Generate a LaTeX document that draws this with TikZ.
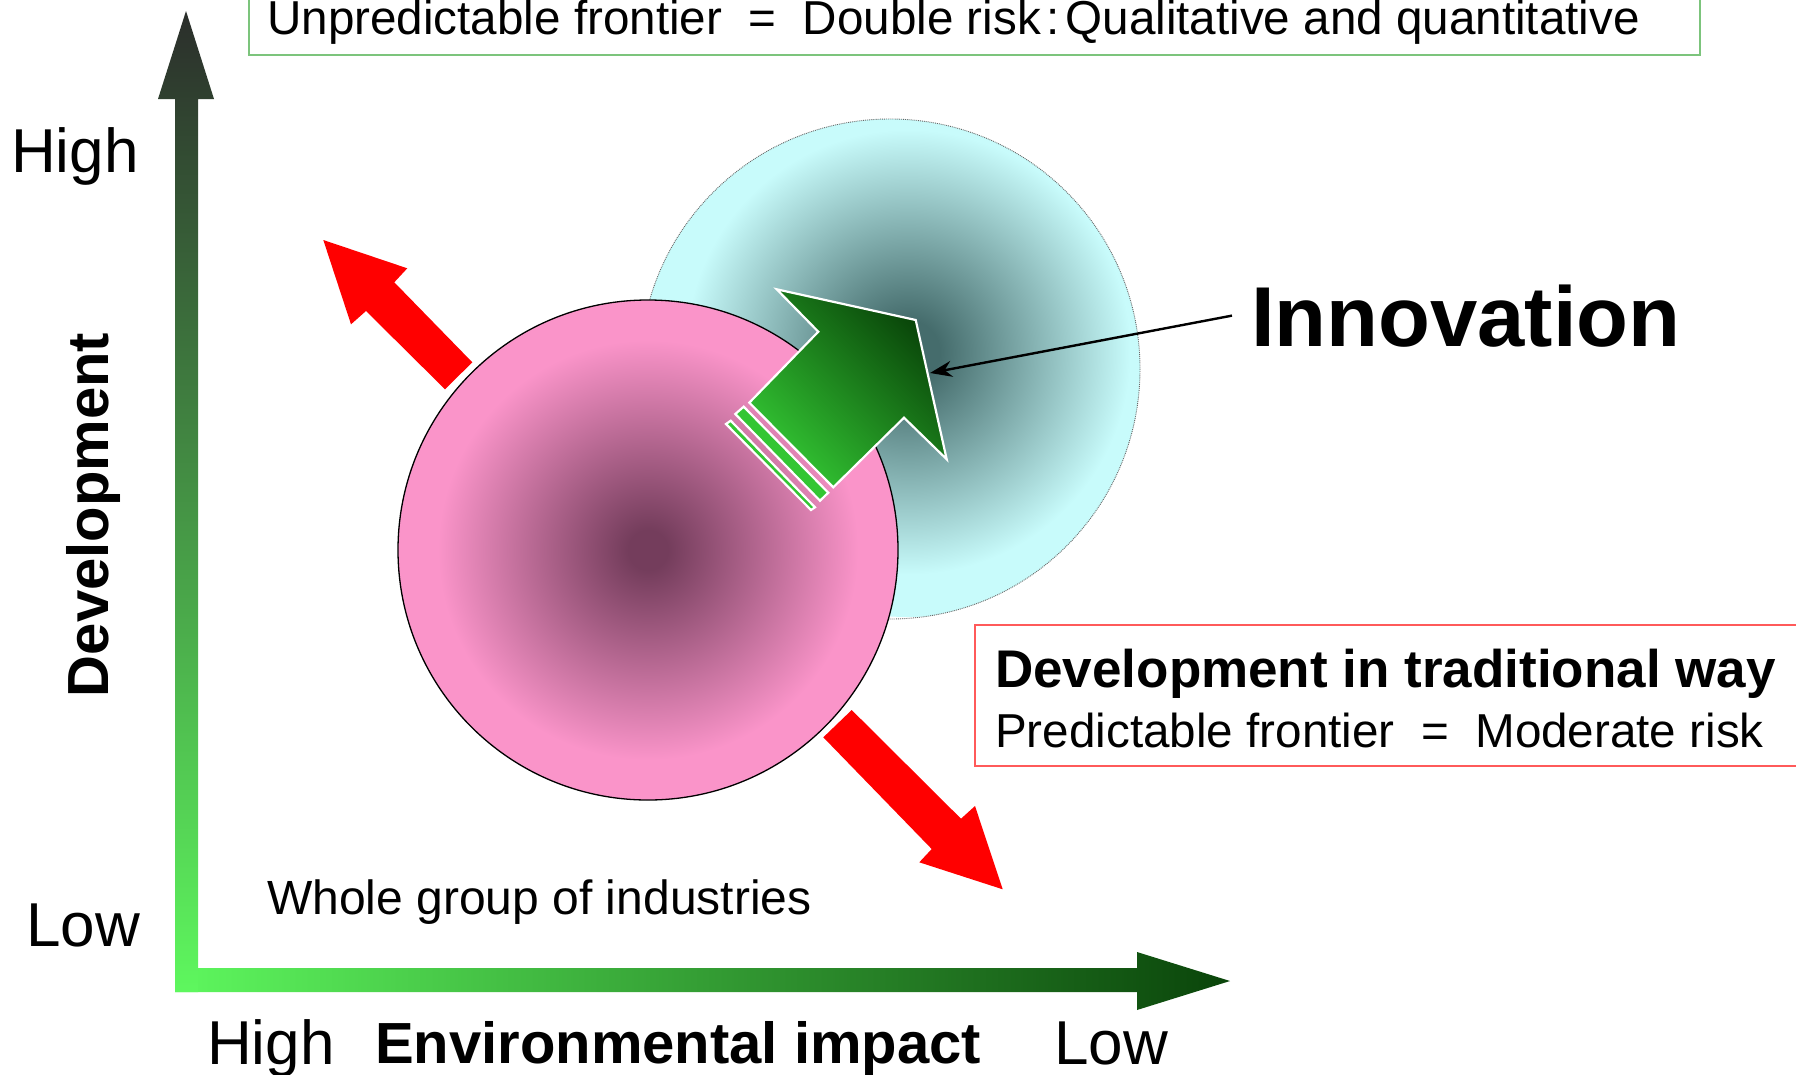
\documentclass[tikz,border=0pt]{standalone}
\usepackage{fontspec}
\setmainfont{Liberation Sans}
\usetikzlibrary{arrows.meta}
\definecolor{pkdark}{HTML}{743D5C}
\definecolor{pkedge}{HTML}{FA94C9}
\definecolor{cydark}{HTML}{456C6C}
\definecolor{cyedge}{HTML}{C8FBFB}
\definecolor{vtop}{HTML}{2B2E2B}
\definecolor{vbot}{HTML}{5EF75E}
\definecolor{hleft}{HTML}{5EF75E}
\definecolor{hright}{HTML}{0A440A}
\definecolor{gbright}{HTML}{33C633}
\definecolor{gdark}{HTML}{084208}
\definecolor{boxgreen}{HTML}{7CC47C}
\definecolor{boxred}{HTML}{FF5A5A}
\pgfdeclareradialshading{pinkball}{\pgfpointorigin}{color(0bp)=(pkdark); color(2bp)=(pkdark); color(21bp)=(pkedge); color(25bp)=(pkedge); color(50bp)=(pkedge)}
\pgfdeclareradialshading{cyanball}{\pgfpointorigin}{color(0bp)=(cydark); color(3bp)=(cydark); color(21bp)=(cyedge); color(25bp)=(cyedge); color(50bp)=(cyedge)}
\newcommand{\twosp}{\hspace{0.556em}}
\begin{document}
\begin{tikzpicture}[x=1pt,y=-1pt,
  txt/.style={inner sep=0pt, anchor=base west, font=\fontsize{48}{56}\selectfont},
  txtb/.style={inner sep=0pt, anchor=base west, font=\fontsize{53}{62}\selectfont\bfseries},
  axlbl/.style={inner sep=0pt, anchor=base west, font=\fontsize{62}{72}\selectfont},
  axbold/.style={inner sep=0pt, font=\fontsize{58}{68}\selectfont\bfseries},
  redarrow/.style={fill=red, draw=none},
  outl/.style={draw=white, line width=2.2pt, line join=miter}
]
\useasboundingbox (0,0) rectangle (1796,1074);
\clip (0,0) rectangle (1796,1074);
\fill[white] (0,0) rectangle (1796,1074);

% top box
\draw[boxgreen, line width=1.6pt] (249,-20) rectangle (1700,55);
\node[txt, font=\fontsize{47.6}{56}\selectfont] (toptext) at (267,34) {Unpredictable frontier\twosp=\twosp Double risk\hspace{0.12em}:\hspace{0.12em}Qualitative and quantitative};

% axes
\shade[left color=hleft, right color=hright]
  (175,968) -- (1137,968) -- (1137,952) -- (1230,981) -- (1137,1010) -- (1137,992) -- (175,992) -- cycle;
\shade[top color=vtop, bottom color=vbot]
  (175,992) -- (175,99) -- (158,99) -- (186,11) -- (214,99) -- (198,99) -- (198,992) -- cycle;

% axis labels
\node[axlbl] (yhigh) at (11,172) {High};
\node[axlbl] (ylow) at (26,946) {Low};
\node[axlbl] (xhigh) at (207,1064) {High};
\node[axlbl] (xlow) at (1054,1064) {Low};
\node[axbold, anchor=base west] (xlabel) at (375,1063) {Environmental impact};
\node[axbold, rotate=90, anchor=base] (ylabel) at (108,515) {Development};

% cyan circle
\begin{scope}
  \clip (890,369) circle (250);
  \shade[shading=cyanball] (908,352) circle (265);
\end{scope}
\draw[gray!80!black, line width=0.9pt, densely dotted] (890,369) circle (250);

% pink circle
\shade[shading=pinkball] (648,550) circle (250);
\draw[black, line width=1.3pt] (648,550) circle (250);

% green arrow
\shade[top color=gdark, bottom color=gbright, shading angle=-45]
  (776.7,289.3) -- (915.7,320) -- (946.7,459.3) -- (904,417.7) -- (833.3,487.3) -- (749.3,402.7) -- (818.3,331.7) -- cycle;
\draw[outl]
  (776.7,289.3) -- (915.7,320) -- (946.7,459.3) -- (904,417.7) -- (833.3,487.3) -- (749.3,402.7) -- (818.3,331.7) -- cycle;
\filldraw[fill=gbright, outl] (735.3,414) -- (743.7,406.7) -- (828.3,492.7) -- (820,500.7) -- cycle;
\filldraw[fill=gbright, outl] (726,424) -- (730.7,420.7) -- (815,507.3) -- (811,510) -- cycle;
\coordinate (gtip) at (930,373);

% red arrows
\fill[redarrow] (323.3,240) -- (407.3,268.3) -- (394.3,282.3) -- (472.3,362.3) -- (445,389.3) -- (366,311) -- (351,324.3) -- cycle;
\fill[redarrow] (851.7,710) -- (961,818.7) -- (975,806) -- (1002.7,889.3) -- (919.3,862.3) -- (931.7,849) -- (823.3,737.3) -- cycle;

% innovation
\node[inner sep=0pt, outer xsep=19pt, anchor=base west, font=\fontsize{85}{98}\selectfont\bfseries] (innov) at (1232,346) {Innovation};
\draw[black, line width=2.4pt, -{Stealth[length=22pt, width=16pt]}] (innov.west) -- (gtip);

% whole group
\node[txt] (whole) at (267,914) {Whole group of industries};

% red box
\draw[boxred, line width=1.6pt] (975,625) rectangle (1830,766);
\node[txtb] (trad) at (995,687) {Development in traditional way};
\node[txt, font=\fontsize{47.6}{56}\selectfont] (pred) at (995,747) {Predictable frontier\twosp=\twosp Moderate risk};
\end{tikzpicture}
\end{document}
